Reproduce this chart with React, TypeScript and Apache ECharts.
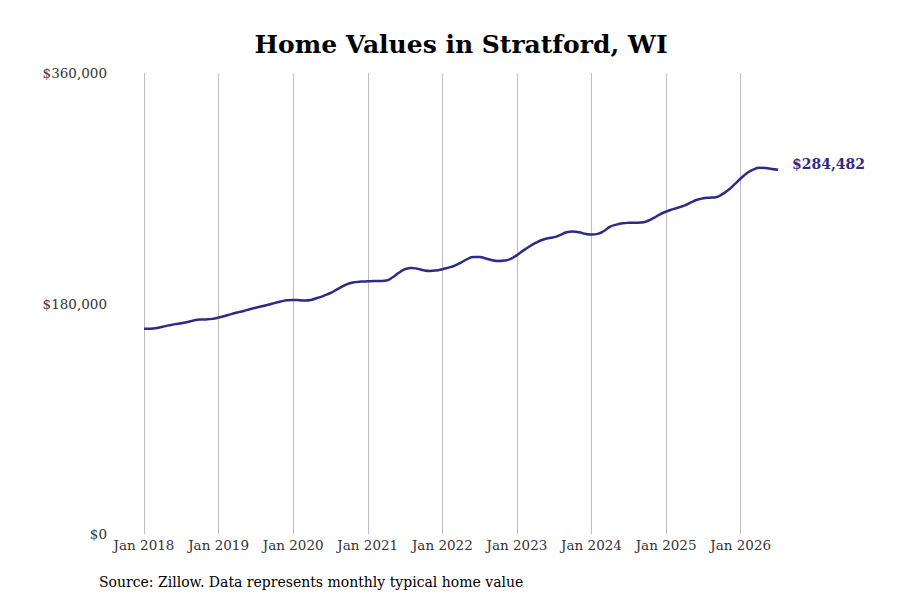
import React, { useEffect, useRef } from "react";
import * as echarts from "echarts";

const years = ["2018", "2019", "2020", "2021", "2022", "2023", "2024", "2025", "2026"];
const monthNames = ["Jan", "Feb", "Mar", "Apr", "May", "Jun", "Jul", "Aug", "Sep", "Oct", "Nov", "Dec"];

const values2018 = [160200, 160300, 160800, 161800, 162900, 163900, 164600, 165600, 166800, 167500, 167600, 168000];
const values2019 = [169000, 170300, 171700, 173000, 174200, 175500, 176700, 177800, 179000, 180300, 181600, 182500];
const values2020 = [182800, 182600, 182300, 183000, 184500, 186200, 188200, 190800, 193500, 195600, 196700, 197100];
const values2021 = [197300, 197500, 197600, 198000, 200500, 204000, 206800, 207800, 207200, 205900, 205400, 205800];
const values2022 = [206800, 208000, 209600, 212000, 214600, 216400, 216300, 215200, 213800, 213200, 213600, 214800];
const values2023 = [217800, 221300, 224500, 227300, 229600, 231000, 231800, 233600, 235600, 236200, 235600, 234400];
const values2024 = [233800, 234400, 236600, 240000, 241600, 242600, 243000, 243100, 243200, 244400, 246800, 249600];
const values2025 = [251800, 253500, 255000, 256600, 259000, 261000, 262200, 262600, 263000, 265200, 268600, 273000];
const values2026 = [277600, 281800, 284600, 286000, 285800, 285000, 284482];

const yTicks = [0, 180000, 360000];

const seriesValues = [
  ...values2018, ...values2019, ...values2020, ...values2021, ...values2022,
  ...values2023, ...values2024, ...values2025, ...values2026,
];

const categories: string[] = [];
years.forEach((y) => {
  monthNames.forEach((m) => {
    if (categories.length < seriesValues.length) categories.push(m + " " + y);
  });
});

const FONT = "DejaVu Serif";
const LINE_COLOR = "#2e2b87";

export default function App() {
  const ref = useRef<HTMLDivElement>(null);
  useEffect(() => {
    document.body.style.margin = "0";
    if (!ref.current) return;
    const chart = echarts.init(ref.current, undefined, { renderer: "svg" });
    chart.setOption({
      animation: false,
      backgroundColor: "#ffffff",
      textStyle: { fontFamily: FONT },
      grid: { left: 144, right: 122, top: 73, bottom: 66, containLabel: false },
      graphic: [
        {
          type: "text",
          x: 461,
          y: 44,
          style: {
            text: "Home Values in Stratford, WI",
            fontFamily: FONT,
            fontWeight: "bold",
            fontSize: 25,
            fill: "#000000",
            textAlign: "center",
            textVerticalAlign: "middle",
          },
        },
        {
          type: "text",
          x: 99,
          y: 582,
          style: {
            text: "Source: Zillow. Data represents monthly typical home value",
            fontFamily: FONT,
            fontSize: 14,
            fill: "#000000",
            textAlign: "left",
            textVerticalAlign: "middle",
          },
        },
      ],
      xAxis: {
        type: "category",
        data: categories,
        boundaryGap: false,
        axisLine: { show: false },
        axisTick: { show: false },
        axisLabel: {
          interval: (i: number) => i % 12 === 0,
          fontFamily: FONT,
          fontSize: 13.5,
          color: "#333333",
          margin: 4,
        },
        splitLine: {
          show: true,
          interval: (i: number) => i % 12 === 0,
          lineStyle: { color: "#bdbdbd", width: 1 },
        },
      },
      yAxis: {
        type: "value",
        min: yTicks[0],
        max: yTicks[yTicks.length - 1],
        interval: yTicks[1] - yTicks[0],
        axisLine: { show: false },
        axisTick: { show: false },
        splitLine: { show: false },
        axisLabel: {
          margin: 37,
          fontFamily: FONT,
          fontSize: 13.5,
          color: "#333333",
          formatter: (v: number) => "$" + v.toLocaleString("en-US"),
        },
      },
      series: [
        {
          type: "line",
          data: seriesValues,
          smooth: true,
          symbol: "none",
          lineStyle: { color: LINE_COLOR, width: 2.5 },
          itemStyle: { color: LINE_COLOR },
          endLabel: {
            show: true,
            distance: 14,
            offset: [0, -6],
            fontFamily: FONT,
            fontWeight: "bold",
            fontSize: 14,
            color: LINE_COLOR,
            formatter: (p: any) => "$" + Number(p.value).toLocaleString("en-US"),
          },
        },
      ],
    });
    return () => chart.dispose();
  }, []);
  return <div ref={ref} style={{ width: 900, height: 600 }} />;
}
